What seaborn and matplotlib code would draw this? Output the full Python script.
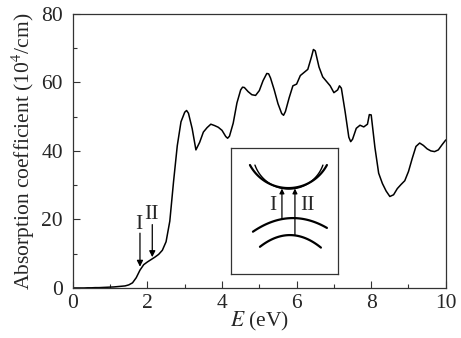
import numpy as np
import pandas as pd
import matplotlib
matplotlib.use('Agg')
import matplotlib.pyplot as plt
from matplotlib.ticker import MultipleLocator
import seaborn as sns

# absorption spectrum
energy = [0.0, 0.1, 0.2, 0.3, 0.4, 0.5, 0.6, 0.7, 0.8, 0.9,
          1.0, 1.1, 1.2, 1.3, 1.4, 1.5, 1.6, 1.7, 1.8, 1.9,
          2.0, 2.1, 2.2, 2.3, 2.4, 2.5, 2.6, 2.7, 2.8, 2.9,
          3.0, 3.05, 3.1, 3.2, 3.3, 3.4, 3.5, 3.6, 3.7, 3.8, 3.9,
          4.0, 4.1, 4.15, 4.2, 4.3, 4.4, 4.5, 4.55, 4.6, 4.7, 4.8, 4.9,
          5.0, 5.1, 5.2, 5.25, 5.3, 5.4, 5.5, 5.6, 5.65, 5.7, 5.8, 5.9,
          6.0, 6.1, 6.2, 6.3, 6.4, 6.45, 6.5, 6.6, 6.7, 6.8, 6.9,
          7.0, 7.1, 7.15, 7.2, 7.3, 7.4, 7.45, 7.5, 7.6, 7.7, 7.8, 7.9, 7.95,
          8.0, 8.1, 8.2, 8.3, 8.4, 8.5, 8.6, 8.7, 8.8, 8.9,
          9.0, 9.1, 9.2, 9.3, 9.4, 9.5, 9.6, 9.7, 9.8, 9.9, 10.0]
absorption = [0.0, 0.0, 0.0, 0.0, 0.05, 0.05, 0.1, 0.1, 0.15, 0.2,
              0.25, 0.3, 0.4, 0.5, 0.6, 0.9, 1.5, 3.0, 5.2, 6.8,
              7.6, 8.3, 9.0, 9.8, 11.0, 13.5, 19.5, 31.0, 41.5, 48.5,
              51.3, 51.8, 51.0, 46.5, 40.3, 42.5, 45.5, 46.8, 47.8, 47.4, 46.9,
              46.0, 44.2, 43.7, 44.3, 48.1, 54.0, 57.8, 58.6, 58.5, 57.3, 56.4, 56.2,
              57.6, 60.5, 62.6, 62.5, 61.3, 57.8, 53.8, 50.9, 50.4, 51.5, 55.5, 59.0,
              59.5, 62.0, 62.9, 63.8, 67.5, 69.6, 69.2, 64.5, 61.6, 60.3, 59.0,
              57.0, 57.8, 59.0, 58.3, 51.5, 44.0, 42.7, 43.4, 46.6, 47.5, 47.0, 47.8, 50.6,
              50.5, 41.0, 33.5, 30.5, 28.3, 26.7, 27.2, 29.0, 30.2, 31.3,
              34.0, 37.8, 41.3, 42.3, 41.6, 40.6, 40.0, 39.8, 40.3, 41.8, 43.2]

# transition markers: label, energy, arrow top, arrow tip, label height
marker_labels = ['I', 'II']
marker_energy = [1.80, 2.13]
marker_top = [16.0, 18.5]
marker_tip = [6.2, 9.0]
marker_text_y = [18.4, 21.4]

df = pd.DataFrame({'E': energy, 'alpha': absorption})

sns.set_style('ticks')
plt.rcParams['font.family'] = ['Liberation Serif', 'DejaVu Serif']
plt.rcParams['mathtext.fontset'] = 'stix'

fig = plt.figure(figsize=(4.61, 3.38), dpi=100)
ax = fig.add_axes([0.158, 0.148, 0.809, 0.811])

sns.lineplot(data=df, x='E', y='alpha', ax=ax, color='black', linewidth=1.1)

ax.set_xlim(0, 10)
ax.set_ylim(0, 80)
ax.xaxis.set_major_locator(MultipleLocator(2))
ax.xaxis.set_minor_locator(MultipleLocator(1))
ax.yaxis.set_major_locator(MultipleLocator(20))
ax.yaxis.set_minor_locator(MultipleLocator(10))
ax.tick_params(which='both', direction='in', top=False, right=False,
               labelsize=15.5, width=0.8, color='#333333')
ax.tick_params(which='major', length=5)
ax.tick_params(which='minor', length=3)
ax.tick_params(axis='y', which='major', pad=7)
ax.tick_params(axis='x', which='major', pad=4)
for s in ax.spines.values():
    s.set_linewidth(0.9)
    s.set_color('#333333')

ax.set_xlabel(r'$E$ (eV)', fontsize=15.5, labelpad=-2)
ax.set_ylabel(r'Absorption coefficient (10$^4$/cm)', fontsize=15.5, labelpad=3)

for lab, e, top, tip, ty in zip(marker_labels, marker_energy, marker_top,
                                marker_tip, marker_text_y):
    ax.annotate('', xy=(e, tip), xytext=(e, top),
                arrowprops=dict(arrowstyle='-|>', color='black', lw=0.9,
                                mutation_scale=9, shrinkA=0, shrinkB=0))
    ax.text(e - 0.02, ty, lab, ha='center', va='center', fontsize=15.5)

# inset: band schematic
ins = fig.add_axes([0.501, 0.189, 0.232, 0.373])
ins.set_xlim(0, 107)
ins.set_ylim(126, 0)
ins.set_xticks([])
ins.set_yticks([])
for s in ins.spines.values():
    s.set_linewidth(0.9)
    s.set_color('#333333')

# conduction bands (circular arcs)
u = np.linspace(19, 96, 80)
ins.plot(u, -3.7 + np.sqrt(43.7 ** 2 - (u - 57.5) ** 2), color='black', lw=1.6)
u2 = np.linspace(24, 92, 80)
ins.plot(u2, 4.9 + np.sqrt(36.1 ** 2 - np.clip((u2 - 58) ** 2, 0, 36.1 ** 2)),
         color='black', lw=1.0)

# valence bands
v1 = np.linspace(22, 96, 80)
ins.plot(v1, 70 + 0.0085 * (v1 - 62) ** 2, color='black', lw=1.6)
v2 = np.linspace(29, 90, 80)
ins.plot(v2, 87 + 0.0130 * (v2 - 59) ** 2, color='black', lw=1.6)

ins.annotate('', xy=(51, 40.5), xytext=(51, 71.2),
             arrowprops=dict(arrowstyle='-|>', color='black', lw=0.9,
                             mutation_scale=7, shrinkA=0, shrinkB=0))
ins.annotate('', xy=(64, 40.5), xytext=(64, 87.3),
             arrowprops=dict(arrowstyle='-|>', color='black', lw=0.9,
                             mutation_scale=7, shrinkA=0, shrinkB=0))
ins.text(42, 57, 'I', ha='center', va='center', fontsize=15.5)
ins.text(76, 57, 'II', ha='center', va='center', fontsize=15.5)

fig.savefig('out.png', dpi=100)
